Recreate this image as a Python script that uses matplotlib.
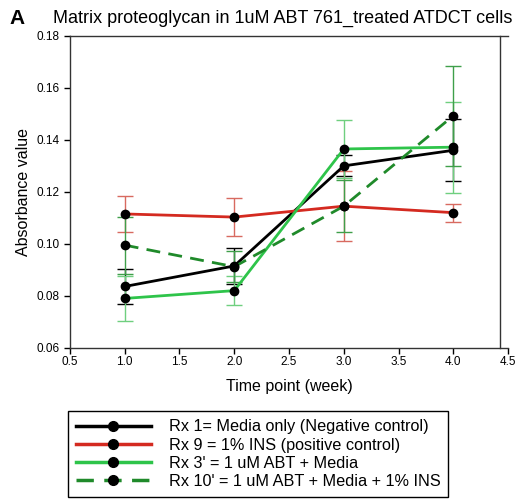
import matplotlib.pyplot as plt
from matplotlib.lines import Line2D

plt.rcParams['font.family'] = ['Liberation Sans', 'DejaVu Sans']

# ---- data ----
weeks = [1.0, 2.0, 3.0, 4.0]

rx1 = [0.0836, 0.0915, 0.1300, 0.1360]
rx1_err = [0.0068, 0.0070, 0.0040, 0.0120]

rx9 = [0.1115, 0.1103, 0.1145, 0.1120]
rx9_err = [0.0068, 0.0073, 0.0135, 0.0035]

rx3 = [0.0790, 0.0820, 0.1365, 0.1372]
rx3_err = [0.0085, 0.0055, 0.0110, 0.0175]

rx10 = [0.0995, 0.0912, 0.1145, 0.1493]
rx10_err = [0.0110, 0.0060, 0.0100, 0.0193]

labels = ["Rx 1= Media only (Negative control)",
          "Rx 9 = 1% INS (positive control)",
          "Rx 3' = 1 uM ABT + Media",
          "Rx 10' = 1 uM ABT + Media + 1% INS"]

# ---- figure ----
fig = plt.figure(figsize=(5.26, 4.99), dpi=100)
ax = fig.add_axes([0.133, 0.303, 0.833, 0.625])

series = [
    (rx1, rx1_err, 'black', 'black', '-'),
    (rx9, rx9_err, '#d42a20', '#d86a60', '-'),
    (rx3, rx3_err, '#2ec44a', '#6fcf7f', '-'),
    (rx10, rx10_err, '#1f8a2a', '#3f9f4a', (0, (5, 3))),
]

for vals, errs, col, ecol, ls in series:
    ax.errorbar(weeks, vals, yerr=errs, fmt='none', ecolor=ecol,
                elinewidth=1, capsize=5.5, capthick=1, zorder=2)
for vals, errs, col, ecol, ls in series:
    ax.plot(weeks, vals, color=col, linestyle=ls, linewidth=2, zorder=3)
    ax.plot(weeks, vals, 'o', color='black', markersize=6, zorder=4)

ax.set_xlim(0.5, 4.5)
ax.set_ylim(0.06, 0.18)
ax.set_xticks([0.5, 1.0, 1.5, 2.0, 2.5, 3.0, 3.5, 4.0, 4.5])
ax.set_yticks([0.06, 0.08, 0.10, 0.12, 0.14, 0.16, 0.18])
ax.set_xticklabels([f'{v:.1f}' for v in ax.get_xticks()])
ax.set_yticklabels([f'{v:.2f}' for v in ax.get_yticks()])
ax.tick_params(labelsize=8.5, length=4, width=1, direction='out')
ax.tick_params(axis='x', pad=2)
ax.spines['right'].set_position(('data', 4.43))
for s in ax.spines.values():
    s.set_linewidth(1)
    s.set_color('#333333')

ax.set_xlabel('Time point (week)', fontsize=11.5, labelpad=8)
ax.set_ylabel('Absorbance value', fontsize=11.5, labelpad=4)

fig.text(0.10, 0.963, 'Matrix proteoglycan in 1uM ABT 761_treated ATDCT cells',
         fontsize=13, va='center', ha='left')
fig.text(0.018, 0.963, 'A', fontsize=15, fontweight='bold', va='center', ha='left')

handles = [Line2D([], [], color=c, linestyle=ls, linewidth=2.5,
                  marker='o', markersize=7, markerfacecolor='black',
                  markeredgecolor='black')
           for _, _, c, _, ls in series]
leg = fig.legend(handles, labels, loc='upper left',
                 bbox_to_anchor=(0.129, 0.176), fontsize=11.7,
                 handlelength=4.6, handletextpad=1.1, labelspacing=0.2,
                 borderpad=0.5, borderaxespad=0, fancybox=False, framealpha=1,
                 edgecolor='black')
leg.get_frame().set_linewidth(1)

fig.savefig('out.png', dpi=100)
